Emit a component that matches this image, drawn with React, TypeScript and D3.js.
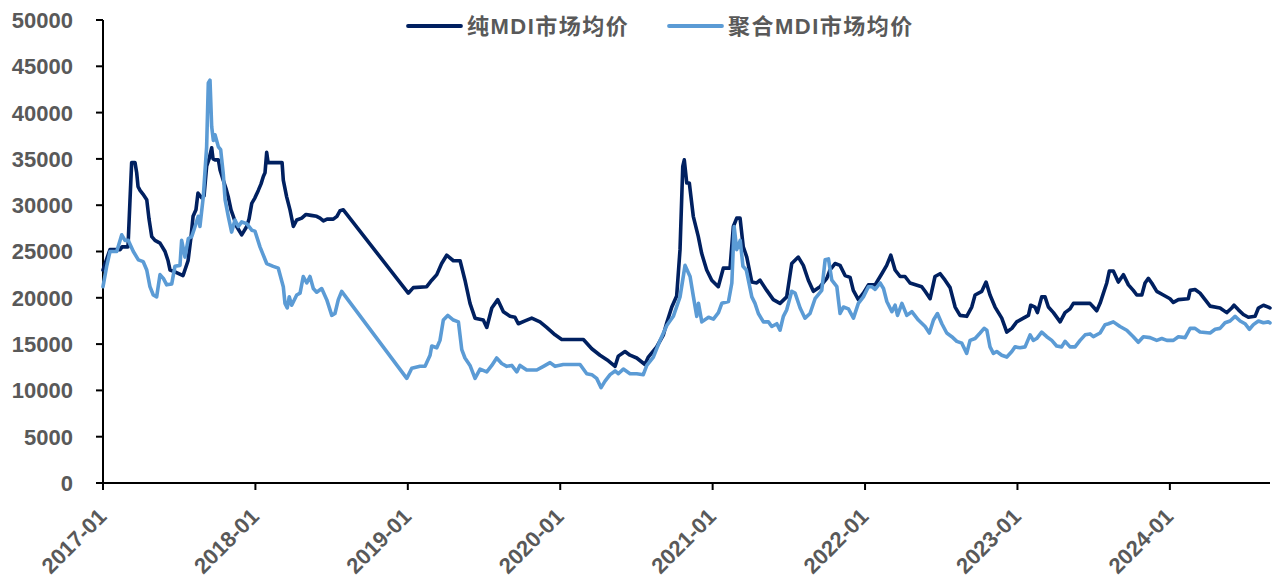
import React from 'react';
import * as d3 from 'd3';

// Price series for pure and polymeric MDI (yuan/ton), sampled on a
// decimal-year time axis measured from January 2017.
const BASE_YEAR = 2017;

const seriesNames = ['纯MDI市场均价', '聚合MDI市场均价'];
const seriesColors = ['#002060', '#5B9BD5'];

const yTicks = [0, 5000, 10000, 15000, 20000, 25000, 30000, 35000, 40000, 45000, 50000];
const xTickYears = [2017, 2018, 2019, 2020, 2021, 2022, 2023, 2024];
const xEndYear = 2024.657;

const pureT = [
  0, 0.020, 0.046, 0.112, 0.125, 0.164, 0.177, 0.188, 0.210, 0.221, 0.230, 0.243, 0.262, 0.287, 0.302,
  0.320, 0.341, 0.374, 0.407, 0.427, 0.440, 0.472, 0.525, 0.558, 0.577, 0.591, 0.610, 0.623, 0.648,
  0.663, 0.680, 0.696, 0.713, 0.722, 0.735, 0.757, 0.768, 0.789, 0.807, 0.822, 0.840, 0.855, 0.877,
  0.892, 0.910, 0.925, 0.943, 0.958, 0.976, 0.997, 1.019, 1.037, 1.052, 1.063, 1.074, 1.083, 1.175,
  1.183, 1.205, 1.227, 1.249, 1.271, 1.304, 1.332, 1.365, 1.402, 1.424, 1.446, 1.470, 1.511, 1.535,
  1.555, 1.577, 2.003, 2.036, 2.124, 2.157, 2.190, 2.222, 2.255, 2.299, 2.343, 2.375, 2.408, 2.441,
  2.495, 2.518, 2.551, 2.590, 2.627, 2.671, 2.703, 2.725, 2.769, 2.813, 2.867, 2.911, 2.966, 3.010,
  3.152, 3.207, 3.261, 3.316, 3.360, 3.381, 3.425, 3.458, 3.502, 3.556, 3.578, 3.633, 3.677, 3.699,
  3.732, 3.764, 3.786, 3.804, 3.814, 3.830, 3.847, 3.873, 3.906, 3.928, 3.961, 3.994, 4.037, 4.070,
  4.114, 4.136, 4.158, 4.180, 4.201, 4.224, 4.257, 4.289, 4.311, 4.355, 4.398, 4.442, 4.486, 4.519,
  4.562, 4.595, 4.628, 4.661, 4.705, 4.749, 4.770, 4.803, 4.836, 4.869, 4.902, 4.923, 4.956, 4.989,
  5.022, 5.066, 5.110, 5.142, 5.169, 5.197, 5.230, 5.262, 5.295, 5.372, 5.394, 5.427, 5.459, 5.492,
  5.525, 5.558, 5.591, 5.623, 5.667, 5.700, 5.722, 5.766, 5.794, 5.820, 5.853, 5.897, 5.930, 5.963,
  5.995, 6.039, 6.072, 6.087, 6.115, 6.131, 6.159, 6.181, 6.203, 6.236, 6.280, 6.312, 6.345, 6.367,
  6.476, 6.498, 6.520, 6.542, 6.564, 6.586, 6.603, 6.629, 6.662, 6.695, 6.728, 6.760, 6.783, 6.816,
  6.837, 6.859, 6.881, 6.914, 6.957, 7.001, 7.023, 7.056, 7.121, 7.133, 7.165, 7.198, 7.231, 7.264,
  7.329, 7.373, 7.406, 7.421, 7.450, 7.482, 7.515, 7.559, 7.581, 7.614, 7.646, 7.657,
];
const pureValues = [
  23000, 24000, 25200, 25200, 25500, 25500, 30500, 34600, 34600, 33500, 32000, 31600, 31200, 30600, 28500,
  26600, 26200, 25900, 25000, 24000, 23000, 22800, 22400, 24000, 26500, 28800, 29500, 31300, 30800,
  31000, 34200, 35000, 36200, 35000, 34900, 34900, 33800, 32700, 31800, 30900, 29500, 28800, 27700,
  27300, 26800, 27200, 27700, 28500, 30200, 30800, 31600, 32300, 33100, 33500, 35700, 34600, 34600,
  32700, 30900, 29500, 27700, 28400, 28600, 29000, 28900, 28800, 28600, 28300, 28500, 28500, 28800,
  29400, 29500, 20500, 21100, 21200, 21900, 22500, 23700, 24600, 24000, 24000, 21900, 19400, 17800,
  17600, 16800, 18900, 19800, 18500, 18000, 17900, 17200, 17500, 17800, 17400, 16800, 16000, 15500,
  15500, 14500, 13800, 13200, 12600, 13700, 14200, 13800, 13500, 12800, 13600, 14700, 16000, 17300,
  19000, 20200, 25200, 34200, 34900, 32400, 32400, 28800, 26600, 24800, 23000, 21900, 21200, 23200,
  23200, 27700, 28600, 28600, 25500, 24400, 21700, 21600, 21900, 20800, 19800, 19400, 20100, 23700,
  24400, 23500, 21900, 20700, 21200, 22100, 23000, 23700, 23500, 22400, 22200, 20800, 19800, 20500,
  21400, 21400, 22600, 23500, 24600, 23000, 22300, 22300, 21600, 21200, 20700, 19900, 22300, 22600,
  21900, 21100, 19000, 18100, 18000, 19000, 20300, 20700, 21700, 20300, 19000, 17800, 16300, 16700,
  17400, 17800, 18100, 19200, 19000, 18400, 20100, 20100, 19000, 18400, 17400, 18400, 18800, 19400,
  19400, 19000, 18600, 19400, 20500, 21600, 22900, 22900, 21700, 22500, 21400, 20800, 20300, 20300,
  21600, 22100, 21600, 20700, 20300, 19900, 19500, 19800, 19900, 20800, 20900, 20500, 19800, 19100,
  18900, 18400, 18900, 19200, 18700, 18200, 17900, 18000, 18900, 19200, 19000, 18900,
];

const polyT = [
  0, 0.024, 0.046, 0.090, 0.123, 0.144, 0.166, 0.199, 0.232, 0.264, 0.287, 0.308, 0.330, 0.352, 0.374,
  0.396, 0.418, 0.451, 0.472, 0.505, 0.516, 0.538, 0.560, 0.582, 0.604, 0.625, 0.636, 0.658, 0.680,
  0.691, 0.702, 0.713, 0.724, 0.735, 0.757, 0.772, 0.789, 0.801, 0.822, 0.844, 0.866, 0.888, 0.910,
  0.943, 0.976, 0.997, 1.030, 1.074, 1.117, 1.150, 1.183, 1.194, 1.209, 1.222, 1.238, 1.271, 1.293,
  1.314, 1.337, 1.358, 1.380, 1.402, 1.435, 1.468, 1.501, 1.522, 1.544, 1.566, 1.993, 2.026, 2.080,
  2.113, 2.146, 2.157, 2.190, 2.211, 2.233, 2.262, 2.299, 2.332, 2.354, 2.375, 2.408, 2.441, 2.474,
  2.518, 2.551, 2.583, 2.616, 2.649, 2.682, 2.715, 2.736, 2.780, 2.846, 2.890, 2.933, 2.966, 3.020,
  3.130, 3.174, 3.207, 3.239, 3.268, 3.294, 3.327, 3.360, 3.381, 3.414, 3.458, 3.502, 3.545, 3.568,
  3.611, 3.655, 3.699, 3.742, 3.786, 3.819, 3.852, 3.874, 3.896, 3.907, 3.929, 3.973, 4.005, 4.038,
  4.060, 4.104, 4.126, 4.141, 4.158, 4.181, 4.199, 4.221, 4.257, 4.278, 4.300, 4.333, 4.366, 4.388,
  4.421, 4.442, 4.464, 4.486, 4.519, 4.541, 4.574, 4.606, 4.639, 4.672, 4.716, 4.738, 4.760, 4.782,
  4.815, 4.836, 4.858, 4.891, 4.924, 4.956, 4.989, 5.022, 5.044, 5.066, 5.099, 5.121, 5.143, 5.176,
  5.197, 5.213, 5.242, 5.274, 5.307, 5.350, 5.394, 5.422, 5.449, 5.475, 5.504, 5.536, 5.569, 5.602,
  5.635, 5.667, 5.689, 5.722, 5.755, 5.781, 5.799, 5.820, 5.842, 5.864, 5.897, 5.930, 5.963, 5.984,
  6.017, 6.050, 6.083, 6.104, 6.126, 6.159, 6.192, 6.225, 6.257, 6.290, 6.312, 6.345, 6.378, 6.411,
  6.444, 6.476, 6.498, 6.542, 6.575, 6.597, 6.629, 6.673, 6.717, 6.760, 6.793, 6.826, 6.870, 6.914,
  6.947, 6.980, 7.023, 7.056, 7.100, 7.133, 7.165, 7.198, 7.264, 7.297, 7.329, 7.362, 7.395, 7.428,
  7.461, 7.493, 7.522, 7.548, 7.581, 7.614, 7.646, 7.657,
];
const polyValues = [
  21200, 23400, 25000, 25000, 26800, 26200, 26200, 25000, 24100, 23900, 23000, 21200, 20300, 20100, 22500,
  22100, 21400, 21500, 23400, 23500, 26200, 24400, 26400, 26600, 27700, 28800, 27700, 30900, 36300,
  43200, 43500, 38500, 37000, 37600, 36300, 36000, 33400, 30600, 28800, 27100, 28400, 27700, 28200,
  28000, 27300, 27200, 25500, 23700, 23400, 23200, 21200, 19400, 18900, 20100, 19200, 20300, 20500,
  22300, 21600, 22300, 21000, 20600, 21000, 19800, 18100, 18300, 19800, 20700, 11300, 12400, 12600,
  12600, 13800, 14800, 14600, 15400, 17600, 18100, 17600, 17400, 14400, 13500, 12700, 11300, 12300,
  12000, 12700, 13500, 12900, 12600, 12700, 12000, 12700, 12200, 12200, 12600, 13000, 12600, 12800,
  12800, 11800, 11700, 11300, 10300, 11000, 11700, 12100, 11800, 12300, 11800, 11800, 11700, 12700,
  13600, 15400, 17000, 18000, 20100, 23500, 22300, 20100, 18000, 19400, 17400, 17900, 17700, 18400,
  19400, 19600, 21600, 27700, 25200, 26200, 23400, 23000, 20100, 19400, 18300, 17400, 17400, 16900,
  17200, 16500, 18000, 18700, 20700, 20500, 18900, 17800, 18300, 19900, 20800, 24100, 24200, 21900,
  21200, 18300, 19000, 18800, 17800, 19400, 20100, 21200, 21200, 20900, 21600, 21000, 19600, 18500,
  19200, 18100, 19400, 18100, 18500, 17600, 16900, 16200, 17600, 18300, 17200, 16200, 15800, 15300,
  15100, 14000, 15400, 15600, 16200, 16700, 16500, 14700, 14000, 14200, 13800, 13600, 14200, 14700,
  14600, 14700, 16000, 15400, 15600, 16300, 15800, 15400, 14800, 14700, 15300, 14700, 14700, 15400,
  16000, 16100, 15800, 16200, 17100, 17200, 17400, 16900, 16500, 15800, 15200, 15800, 15700, 15400,
  15600, 15400, 15400, 15800, 15700, 16700, 16700, 16300, 16200, 16600, 16700, 17300, 17500, 18000,
  17500, 17200, 16600, 17100, 17500, 17300, 17400, 17300,
];

const W = 1272;
const H = 581;
const plot = { left: 103, right: 1270, top: 20, bottom: 483 };
const textColor = '#595959';
const fontFamily = '"Liberation Sans", Arial, "Noto Sans CJK SC", sans-serif';

export default function App() {
  const x = d3.scaleLinear().domain([BASE_YEAR, xEndYear]).range([plot.left, plot.right]);
  const y = d3.scaleLinear().domain([0, 50000]).range([plot.bottom, plot.top]);

  const toPoints = (ts: number[], vs: number[]) =>
    ts.map((t, i) => [BASE_YEAR + t, vs[i]] as [number, number]);

  const line = d3
    .line<[number, number]>()
    .x((d) => x(d[0]))
    .y((d) => y(d[1]));

  const series = [
    { name: seriesNames[0], color: seriesColors[0], points: toPoints(pureT, pureValues) },
    { name: seriesNames[1], color: seriesColors[1], points: toPoints(polyT, polyValues) },
  ];

  const legendItems = [
    { lineX: 408, textX: 467 },
    { lineX: 669, textX: 728 },
  ];

  return (
    <svg
      width={W}
      height={H}
      style={{ position: 'absolute', left: 0, top: 0, background: '#fff' }}
      fontFamily={fontFamily}
    >
      <rect width={W} height={H} fill="#fff" />

      {/* Y axis */}
      <line x1={plot.left} x2={plot.left} y1={plot.top} y2={plot.bottom} stroke="#000" strokeWidth={2} />
      {yTicks.map((v) => (
        <g key={v}>
          <line x1={plot.left - 7} x2={plot.left} y1={y(v)} y2={y(v)} stroke="#000" strokeWidth={2} />
          <text
            x={73}
            y={y(v)}
            dy="0.36em"
            textAnchor="end"
            fontSize={22}
            fontWeight="bold"
            fill={textColor}
          >
            {v}
          </text>
        </g>
      ))}

      {/* X axis */}
      <line x1={plot.left} x2={plot.right} y1={plot.bottom} y2={plot.bottom} stroke="#000" strokeWidth={2} />
      {xTickYears.map((yr) => (
        <g key={yr}>
          <line x1={x(yr)} x2={x(yr)} y1={plot.bottom} y2={plot.bottom + 7} stroke="#000" strokeWidth={2} />
          <text
            transform={`translate(${x(yr) - 6},${plot.bottom + 24}) rotate(-45)`}
            textAnchor="end"
            dy="0.7em"
            fontSize={22}
            fontWeight="bold"
            fill={textColor}
          >
            {`${yr}-01`}
          </text>
        </g>
      ))}

      {/* Series lines */}
      {series.map((s) => (
        <path
          key={s.name}
          d={line(s.points) || ''}
          fill="none"
          stroke={s.color}
          strokeWidth={3.6}
          strokeLinejoin="round"
          strokeLinecap="round"
        />
      ))}

      {/* Legend */}
      {series.map((s, i) => (
        <g key={`lg-${s.name}`}>
          <line
            x1={legendItems[i].lineX}
            x2={legendItems[i].lineX + 53}
            y1={26}
            y2={26}
            stroke={s.color}
            strokeWidth={3.8}
            strokeLinecap="round"
          />
          <text
            x={legendItems[i].textX}
            y={26}
            dy="0.36em"
            fontSize={22}
            fontWeight="bold"
            letterSpacing={1.5}
            fill={textColor}
          >
            {s.name}
          </text>
        </g>
      ))}
    </svg>
  );
}
